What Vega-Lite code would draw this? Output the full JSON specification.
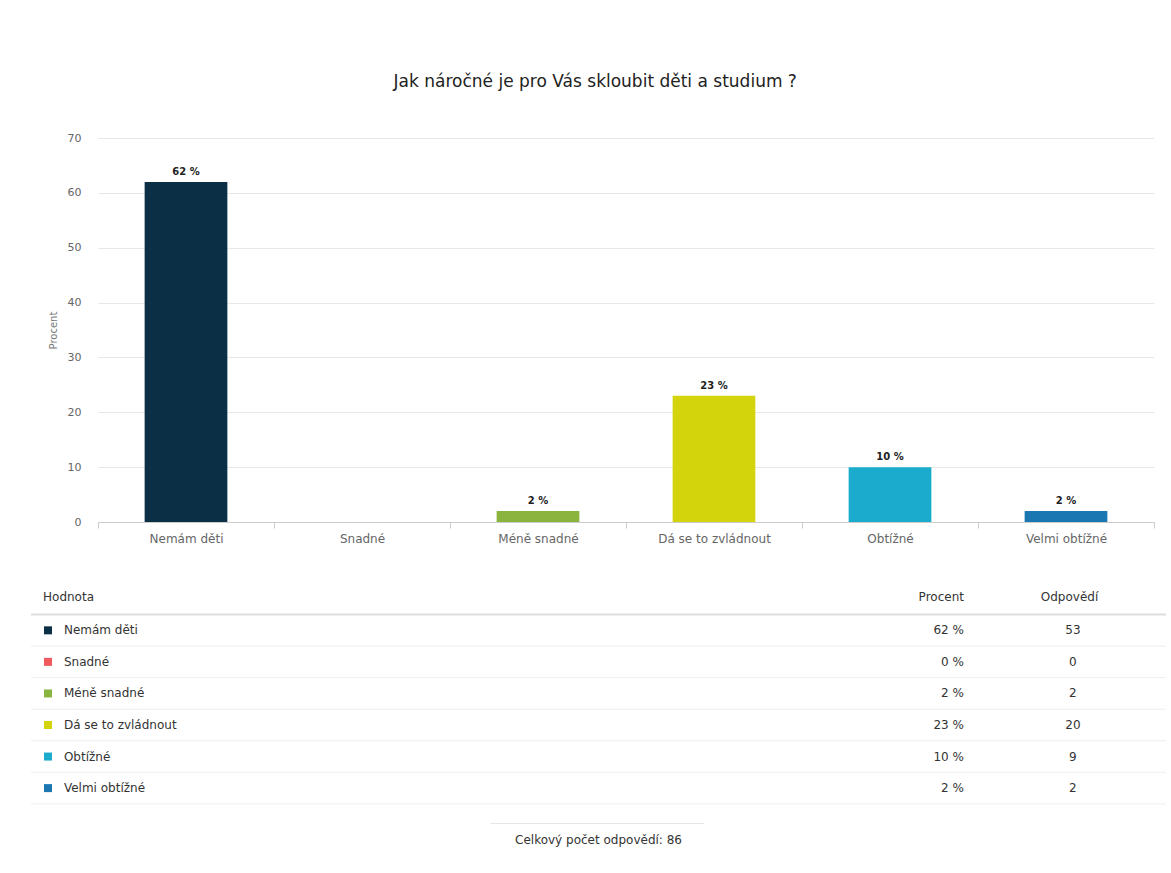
{
  "$schema": "https://vega.github.io/schema/vega-lite/v6.json",
  "background": "white",
  "padding": {"left": 30, "top": 73, "right": 0, "bottom": 0},
  "config": {
    "font": "DejaVu Sans",
    "view": {"stroke": null},
    "concat": {"spacing": 39}
  },
  "datasets": {
    "resp": [
      {"Hodnota": "Nemám děti", "Procent": 62, "Odpovedi": 53},
      {"Hodnota": "Snadné", "Procent": 0, "Odpovedi": 0},
      {"Hodnota": "Méně snadné", "Procent": 2, "Odpovedi": 2},
      {"Hodnota": "Dá se to zvládnout", "Procent": 23, "Odpovedi": 20},
      {"Hodnota": "Obtížné", "Procent": 10, "Odpovedi": 9},
      {"Hodnota": "Velmi obtížné", "Procent": 2, "Odpovedi": 2}
    ]
  },
  "vconcat": [
    {
      "width": 1056,
      "height": 384,
      "data": {"name": "resp"},
      "title": {
        "text": "Jak náročné je pro Vás skloubit děti a studium ?",
        "fontSize": 17,
        "fontWeight": "normal",
        "color": "#222222",
        "frame": "bounds",
        "anchor": "middle",
        "dx": -6,
        "offset": 41
      },
      "layer": [
        {
          "mark": {"type": "bar", "width": {"band": 0.47}},
          "encoding": {
            "x": {
              "field": "Hodnota", "type": "nominal", "sort": null,
              "scale": {"paddingInner": 0, "paddingOuter": 0},
              "axis": {
                "title": null, "labelAngle": 0, "tickBand": "extent",
                "domainColor": "#cccccc", "tickColor": "#cccccc", "tickSize": 6,
                "labelColor": "#666666", "labelFontSize": 12, "labelPadding": 5
              }
            },
            "y": {
              "field": "Procent", "type": "quantitative",
              "scale": {"domain": [0, 70]},
              "axis": {
                "title": "Procent", "titleFontSize": 10, "titleFontWeight": "normal",
                "titleColor": "#777777", "titlePadding": 9,
                "values": [0, 10, 20, 30, 40, 50, 60, 70],
                "ticks": false, "domain": false,
                "labelColor": "#666666", "labelFontSize": 11, "labelPadding": 17,
                "gridColor": "#e8e8e8"
              }
            },
            "color": {
              "field": "Hodnota", "type": "nominal", "legend": null,
              "scale": {
                "domain": ["Nemám děti", "Snadné", "Méně snadné", "Dá se to zvládnout", "Obtížné", "Velmi obtížné"],
                "range": ["#0b2f45", "#f0595e", "#8bb43e", "#d4d40c", "#1aabcd", "#1b77b1"]
              }
            }
          }
        },
        {
          "transform": [{"filter": "datum.Procent > 0"}],
          "mark": {
            "type": "text", "dy": -10, "fontWeight": "bold", "fontSize": 10,
            "color": "#222222", "text": {"expr": "datum.Procent + ' %'"}
          },
          "encoding": {
            "x": {"field": "Hodnota", "type": "nominal", "sort": null},
            "y": {"field": "Procent", "type": "quantitative"}
          }
        }
      ]
    },
    {
      "width": 1056,
      "height": 284,
      "data": {"name": "resp"},
      "encoding": {
        "y": {"field": "Hodnota", "type": "nominal",
          "scale": {
            "domain": ["Hodnota", "Nemám děti", "Snadné", "Méně snadné", "Dá se to zvládnout", "Obtížné", "Velmi obtížné", "_f1", "_f2"],
            "paddingInner": 0, "paddingOuter": 0
          },
          "axis": null
        }
      },
      "layer": [
        {
          "transform": [{"filter": "datum.Hodnota === 'Nemám děti'"}],
          "mark": {"type": "rule", "color": "#dddddd", "strokeWidth": 2},
          "encoding": {
            "y": {"field": "Hodnota", "type": "nominal", "bandPosition": 0},
            "x": {"datum": 0, "type": "quantitative",
              "scale": {"domain": [0, 1], "range": [-67, 1068], "zero": false, "nice": false},
              "axis": null},
            "x2": {"datum": 1}
          }
        },
        {
          "transform": [{"filter": "datum.Hodnota !== 'Nemám děti'"}],
          "mark": {"type": "rule", "color": "#eeeeee", "strokeWidth": 1},
          "encoding": {
            "y": {"field": "Hodnota", "type": "nominal", "bandPosition": 0},
            "x": {"datum": 0, "type": "quantitative"},
            "x2": {"datum": 1}
          }
        },
        {
          "data": {"values": [{}]},
          "mark": {"type": "rule", "color": "#eeeeee", "strokeWidth": 1},
          "encoding": {
            "y": {"datum": "_f1", "type": "nominal", "bandPosition": 0},
            "x": {"datum": 0, "type": "quantitative"},
            "x2": {"datum": 1}
          }
        },
        {
          "data": {"values": [{}]},
          "mark": {"type": "rule", "color": "#e4e4e4", "strokeWidth": 1},
          "encoding": {
            "y": {"datum": "_f1", "type": "nominal", "bandPosition": 0.62},
            "x": {"datum": 0.405, "type": "quantitative"},
            "x2": {"datum": 0.593}
          }
        },
        {
          "mark": {"type": "square", "size": 64, "opacity": 1},
          "encoding": {
            "x": {"datum": 0.015, "type": "quantitative"},
            "color": {"field": "Hodnota", "type": "nominal", "legend": null,
              "scale": {
                "domain": ["Nemám děti", "Snadné", "Méně snadné", "Dá se to zvládnout", "Obtížné", "Velmi obtížné"],
                "range": ["#0b2f45", "#f0595e", "#8bb43e", "#d4d40c", "#1aabcd", "#1b77b1"]
              }
            }
          }
        },
        {
          "mark": {"type": "text", "align": "left", "fontSize": 12, "color": "#333333"},
          "encoding": {
            "x": {"datum": 0.029, "type": "quantitative"},
            "text": {"field": "Hodnota"}
          }
        },
        {
          "mark": {"type": "text", "align": "right", "fontSize": 12, "color": "#333333", "text": {"expr": "datum.Procent + ' %'"}},
          "encoding": {
            "x": {"datum": 0.822, "type": "quantitative"}
          }
        },
        {
          "mark": {"type": "text", "align": "center", "fontSize": 12, "color": "#333333"},
          "encoding": {
            "x": {"datum": 0.918, "type": "quantitative"},
            "text": {"field": "Odpovedi"}
          }
        },
        {
          "data": {"values": [{}]},
          "mark": {"type": "text", "align": "left", "fontSize": 12, "color": "#333333"},
          "encoding": {
            "x": {"datum": 0.0106, "type": "quantitative"},
            "y": {"datum": "Hodnota", "type": "nominal", "bandPosition": 0.45},
            "text": {"value": "Hodnota"}
          }
        },
        {
          "data": {"values": [{}]},
          "mark": {"type": "text", "align": "center", "fontSize": 12, "color": "#333333"},
          "encoding": {
            "x": {"datum": 0.802, "type": "quantitative"},
            "y": {"datum": "Hodnota", "type": "nominal", "bandPosition": 0.45},
            "text": {"value": "Procent"}
          }
        },
        {
          "data": {"values": [{}]},
          "mark": {"type": "text", "align": "center", "fontSize": 12, "color": "#333333"},
          "encoding": {
            "x": {"datum": 0.915, "type": "quantitative"},
            "y": {"datum": "Hodnota", "type": "nominal", "bandPosition": 0.45},
            "text": {"value": "Odpovědí"}
          }
        },
        {
          "data": {"values": [{}]},
          "mark": {"type": "text", "align": "center", "fontSize": 12, "color": "#333333"},
          "encoding": {
            "x": {"datum": 0.5, "type": "quantitative"},
            "y": {"datum": "_f2", "type": "nominal", "bandPosition": 0.14},
            "text": {"value": "Celkový počet odpovědí: 86"}
          }
        }
      ]
    }
  ]
}
